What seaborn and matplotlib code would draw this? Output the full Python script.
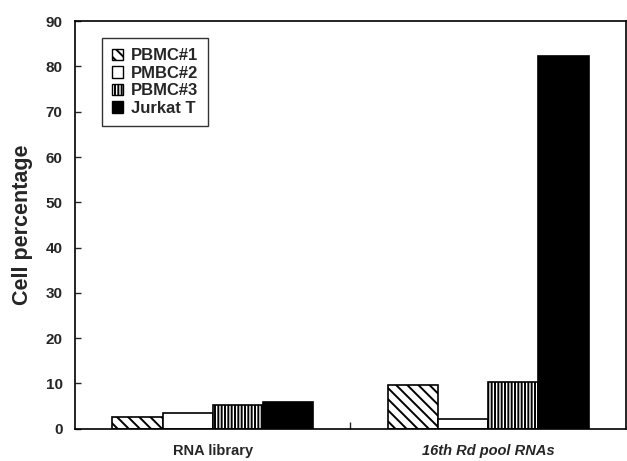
import pandas as pd
import seaborn as sns
import matplotlib.pyplot as plt
from matplotlib.patches import Patch

# Data
groups = ['RNA library', '16th Rd pool RNAs']
cells = ['PBMC#1', 'PMBC#2', 'PBMC#3', 'Jurkat T']
rna_library = [2.7, 3.4, 5.3, 5.9]
pool_16th = [9.7, 2.2, 10.4, 82.3]

hatches = ['\\\\\\', '', '|||||', '']
fills = ['white', 'white', 'white', 'black']

df = pd.DataFrame({
    'group': [groups[0]] * 4 + [groups[1]] * 4,
    'cell': cells * 2,
    'value': rna_library + pool_16th,
})

sns.set_style('ticks')
plt.rcParams['font.family'] = ['Liberation Sans', 'DejaVu Sans']
plt.rcParams['font.weight'] = 'bold'
plt.rcParams['hatch.linewidth'] = 1.4
plt.rcParams['hatch.color'] = 'black'

fig = plt.figure(figsize=(6.27, 4.61), dpi=100)
ax = fig.add_axes([0.12, 0.07, 0.878, 0.884])

sns.barplot(data=df, x='group', y='value', hue='cell', order=groups,
            hue_order=cells, width=0.73, gap=0, ax=ax, legend=False,
            edgecolor='black', linewidth=1.2, saturation=1)

# color / hatch per series
for cont, fc, h in zip(ax.containers, fills, hatches):
    for bar in cont:
        bar.set_facecolor(fc)
        bar.set_hatch(h)
        bar.set_edgecolor('black')

ax.set_xlim(-0.5, 1.5)
ax.set_ylim(0, 90)
ax.set_yticks(range(0, 91, 10))
ax.set_xlabel('')
ax.set_ylabel('Cell percentage', fontsize=15.5, fontweight='bold', labelpad=9)

ax.tick_params(axis='y', direction='in', length=4, width=1, labelsize=11, pad=9)
ax.tick_params(axis='x', which='major', length=0, labelsize=10.5, pad=11)
ax.set_xticks([0.5], minor=True)
ax.tick_params(axis='x', which='minor', direction='in', length=5, width=1)
labels = ax.get_xticklabels()
labels[1].set_style('italic')
for lab in ax.get_yticklabels():
    lab.set_fontweight('bold')

for sp in ax.spines.values():
    sp.set_visible(True)
    sp.set_linewidth(1.2)
    sp.set_color('black')

handles = [Patch(facecolor=fc, edgecolor='black', hatch=h, label=c)
           for c, fc, h in zip(cells, fills, hatches)]
leg = ax.legend(handles=handles, loc='upper left', bbox_to_anchor=(0.049, 0.958),
                frameon=True, fancybox=False, edgecolor='black',
                prop={'weight': 'bold', 'size': 12}, handlelength=0.65,
                handleheight=0.65, handletextpad=0.45, labelspacing=0.15,
                borderpad=0.6, borderaxespad=0)
leg.get_frame().set_linewidth(1.0)

fig.savefig('out.png', dpi=100)
